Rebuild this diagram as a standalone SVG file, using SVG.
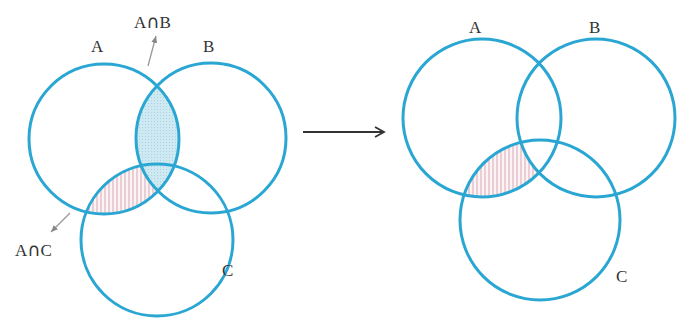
<svg xmlns="http://www.w3.org/2000/svg" width="688" height="321" viewBox="0 0 688 321">
<style>
.c{fill:none;stroke:#2aa6d3;stroke-width:3}
.t{font-family:"Liberation Serif",serif;font-size:17px;fill:#333}
.i{font-family:"DejaVu Sans",sans-serif;font-size:18px}
.p{stroke:#999;stroke-width:1.3;fill:none}
</style>
<defs>
<pattern id="hatch" width="4" height="4" patternUnits="userSpaceOnUse">
<rect width="4" height="4" fill="#fbf3f4"/>
<line x1="1" y1="0" x2="1" y2="4" stroke="#d9a9b8" stroke-width="1"/>
</pattern>
<pattern id="dots" width="3" height="3" patternUnits="userSpaceOnUse">
<rect width="3" height="3" fill="#cfe9f2"/>
<rect x="1" y="1" width="1" height="1" fill="#a9d4e3"/>
</pattern>
<clipPath id="clA1"><circle cx="104" cy="139" r="75"/></clipPath>
<clipPath id="clA2"><circle cx="482" cy="118" r="79"/></clipPath>
<clipPath id="clNotB2"><path d="M0 0H688V321H0Z M517 118a79 79 0 1 0 158 0a79 79 0 1 0 -158 0Z" clip-rule="evenodd"/></clipPath>
<marker id="ah" markerWidth="8" markerHeight="8" refX="7" refY="4" orient="auto" markerUnits="userSpaceOnUse">
<path d="M0 1L7 4L0 7Z" fill="#888"/>
</marker>
<marker id="arr" markerWidth="12" markerHeight="12" refX="10" refY="6" orient="auto" markerUnits="userSpaceOnUse">
<path d="M1 1L10 6L1 11" fill="none" stroke="#333" stroke-width="1.8"/>
</marker>
</defs>
<rect width="688" height="321" fill="#fff"/>
<g id="left">
<g id="shadeAC1" clip-path="url(#clA1)"><circle cx="157" cy="240" r="76" fill="url(#hatch)"/></g>
<g id="shadeAB1" clip-path="url(#clA1)"><circle cx="211" cy="138" r="75" fill="url(#dots)"/></g>
<g id="A1"><circle class="c" cx="104" cy="139" r="75"/><text class="t" x="91" y="52">A</text></g>
<g id="B1"><circle class="c" cx="211" cy="138" r="75"/><text class="t" x="203" y="52">B</text></g>
<g id="C1"><circle class="c" cx="157" cy="240" r="76"/><text class="t" x="222" y="276">C</text></g>
<g id="AnB"><text class="t" x="134" y="28">A<tspan class="i">∩</tspan>B</text></g>
<g id="AnC"><text class="t" x="15" y="256">A<tspan class="i">∩</tspan>C</text></g>
</g>
<g id="right">
<g id="shadeAC2" clip-path="url(#clNotB2)"><g clip-path="url(#clA2)"><circle cx="540" cy="220" r="80" fill="url(#hatch)"/></g></g>
<g id="A2"><circle class="c" cx="482" cy="118" r="79"/><text class="t" x="469" y="33">A</text></g>
<g id="B2"><circle class="c" cx="596" cy="118" r="79"/><text class="t" x="589" y="33">B</text></g>
<g id="C2"><circle class="c" cx="540" cy="220" r="80"/><text class="t" x="616" y="282">C</text></g>
</g>
<g id="connectors">
<line class="p" x1="148" y1="66" x2="156" y2="36" marker-end="url(#ah)"/>
<line class="p" x1="70" y1="213" x2="51" y2="232" marker-end="url(#ah)"/>
<line x1="303" y1="132" x2="384" y2="132" stroke="#333" stroke-width="1.8" marker-end="url(#arr)"/>
</g>
</svg>
